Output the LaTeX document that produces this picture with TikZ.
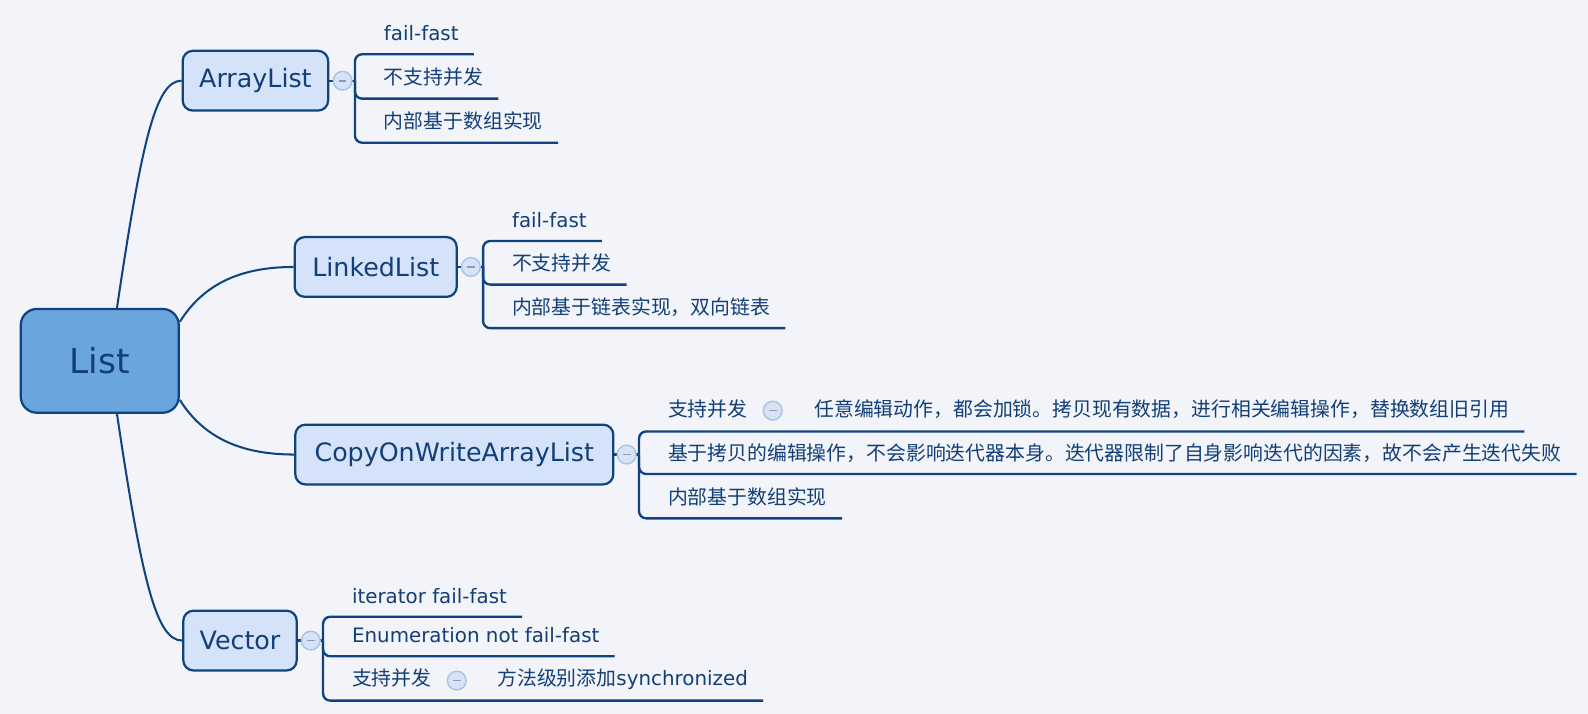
\documentclass[tikz,border=0pt]{standalone}
\usepackage{fontspec}
\setmainfont{DejaVu Sans}
\newfontfamily\cjk{Noto Sans CJK SC}
\definecolor{cbg}{HTML}{F2F4F9}
\definecolor{cink}{HTML}{0F437F}
\definecolor{ctext}{HTML}{123F78}
\definecolor{croot}{HTML}{6AA5DD}
\definecolor{csub}{HTML}{D4E2FA}
\definecolor{cfold}{HTML}{D6E2F5}
\definecolor{cfoldline}{HTML}{AAC2E8}
\definecolor{cminus}{HTML}{8E9BB6}
\tikzset{
  every picture/.style={x=1pt, y=-1pt, line width=2.2pt},
  root/.style={draw=cink, fill=croot, rounded corners=16pt, minimum width=156pt, minimum height=102.5pt, inner sep=0pt, text=ctext, font=\fontsize{34}{40}\selectfont},
  topic/.style={draw=cink, fill=csub, rounded corners=10pt, minimum height=59pt, inner sep=0pt, text=ctext, font=\fontsize{25}{30}\selectfont},
  leaf/.style={anchor=south west, xshift=13.5pt, inner xsep=14pt, inner ysep=0pt, text depth=12.5pt, text=ctext, font=\fontsize{19.6}{24}\selectfont},
  fold/.style={circle, draw=cfoldline, fill=cfold, line width=1.4pt, minimum size=18.5pt, inner sep=0pt,
    path picture={\draw[cminus, line width=1.6pt] ([xshift=-3.8pt]path picture bounding box.center) -- ([xshift=3.8pt]path picture bounding box.center);}},
  branch/.style={draw=cink, line width=2.3pt, rounded corners=7pt},
  link/.style={draw=cink, line width=2pt},
}
\begin{document}
\begin{tikzpicture}
  \useasboundingbox[fill=cbg] (0,0) rectangle (1568,705);

  % central topic and main topics
  \node[root] (list) at (98.5,356.3) {List};
  \node[topic, minimum width=143.6pt] (arr) at (252.2,79.7) {ArrayList};
  \node[topic, minimum width=160pt] (lnk) at (371,263.6) {LinkedList};
  \node[topic, minimum width=314pt] (cow) at (448.6,448.8) {CopyOnWriteArrayList};
  \node[topic, minimum width=112pt] (vec) at (237,632.5) {Vector};

  \draw[link] (list.72) .. controls +(24.7,-166) and +(-25.4,0) .. (arr.west);
  \draw[link] (list.26) .. controls +(24.7,-39.5) and +(-49,0) .. (lnk.west);
  \draw[link] (list.-26) .. controls +(24.7,39.5) and +(-49,0) .. (cow.west);
  \draw[link] (list.-72) .. controls +(24.7,166) and +(-25.4,0) .. (vec.west);

  % ArrayList
  \coordinate (ab) at (350.5,79.7);
  \draw[branch] (arr.east) -- (ab);
  \node[fold] (af) at (338.3,79.7) {};
  \node[leaf] (a1) at (350.5,53.6) {fail-fast};
  \node[leaf] (a2) at (350.5,97.4) {\cjk 不支持并发};
  \node[leaf] (a3) at (350.5,140.9) {\cjk 内部基于数组实现};
  \foreach \n in {a1,a2,a3} \draw[branch] (\n.south east) -| (ab);

  % LinkedList
  \coordinate (lb) at (477,263.6);
  \draw[branch] (lnk.east) -- (lb);
  \node[fold] (lf) at (465,263.6) {};
  \node[leaf] (l1) at (477,238) {fail-fast};
  \node[leaf] (l2) at (477,281) {\cjk 不支持并发};
  \node[leaf] (l3) at (477,324) {\cjk 内部基于链表实现，双向链表};
  \foreach \n in {l1,l2,l3} \draw[branch] (\n.south east) -| (lb);

  % CopyOnWriteArrayList
  \coordinate (cb) at (631,448.8);
  \draw[branch] (cow.east) -- (cb);
  \node[fold] (cf) at (618.8,448.8) {};
  \node[leaf, text depth=14pt] (c1) at (631,426) {\cjk 支持并发};
  \node[fold] (c1f) at (763,405.5) {};
  \node[leaf, text depth=14pt] (c1x) at (775.5,426) {\cjk 任意编辑动作，都会加锁。拷贝现有数据，进行相关编辑操作，替换数组旧引用};
  \node[leaf] (c2) at (631,468) {\cjk 基于拷贝的编辑操作，不会影响迭代器本身。迭代器限制了自身影响迭代的因素，故不会产生迭代失败};
  \node[leaf] (c3) at (631,511.8) {\cjk 内部基于数组实现};
  \foreach \n in {c1x,c2,c3} \draw[branch] (\n.south east) -| (cb);

  % Vector
  \coordinate (vb) at (319,632.5);
  \draw[branch] (vec.east) -- (vb);
  \node[fold] (vf) at (306.9,632.5) {};
  \node[leaf] (v1) at (319,609) {iterator fail-fast};
  \node[leaf] (v2) at (319,648) {Enumeration not fail-fast};
  \node[leaf, text depth=14pt] (v3) at (319,691.8) {\cjk 支持并发};
  \node[fold] (v3f) at (451,672) {};
  \node[leaf, text depth=14pt] (v3x) at (462.5,691.8) {{\cjk 方法级别添加}synchronized};
  \foreach \n in {v1,v2,v3x} \draw[branch] (\n.south east) -| (vb);
\end{tikzpicture}
\end{document}
